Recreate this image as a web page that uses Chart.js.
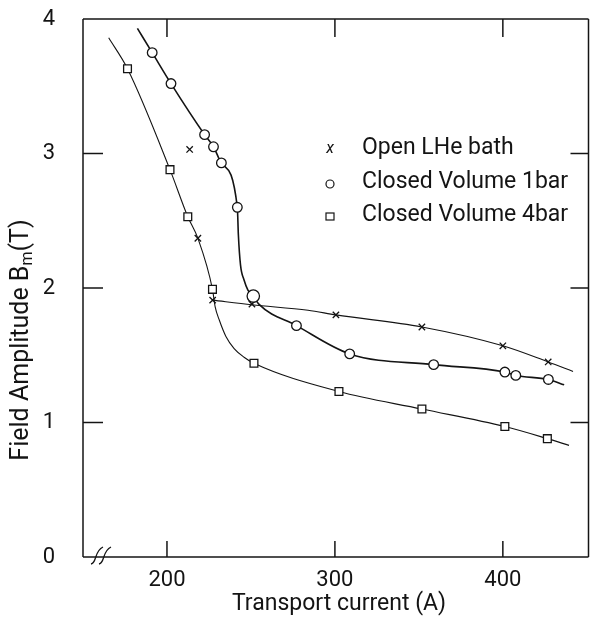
<!DOCTYPE html>
<html><head><meta charset="utf-8">
<script src="https://cdn.jsdelivr.net/npm/chart.js@4"></script>
<style>html,body{margin:0;padding:0;background:#fff}canvas{display:block}</style>
</head><body>
<canvas id="c" width="596" height="619"></canvas>
<script>
// ---- data ----
const xTickValues = [200, 300, 400];
const yTickValues = [0, 1, 2, 3, 4];
const seriesNames = ['Open LHe bath', 'Closed Volume 1bar', 'Closed Volume 4bar'];
const xTitle = 'Transport current (A)';

// Open LHe bath (x markers)
const openX = [213.5, 218.4, 227.2, 250.6, 300.6, 351.8, 400.0, 427.0];
const openY = [3.03, 2.37, 1.91, 1.88, 1.80, 1.71, 1.57, 1.45];
const openCurveX = [227.2, 250.6, 284.0, 300.6, 351.8, 400.0, 427.0, 441.8];
const openCurveY = [1.91, 1.875, 1.835, 1.80, 1.71, 1.57, 1.45, 1.38];

// Closed Volume 1bar (circles)
const circX = [191.2, 202.4, 222.4, 227.7, 232.4, 241.9, 251.4, 277.1, 308.8, 358.8, 401.2, 407.7, 427.1];
const circY = [3.75, 3.52, 3.14, 3.05, 2.93, 2.60, 1.94, 1.72, 1.51, 1.43, 1.375, 1.35, 1.32];
const circCurveX = [182.4, 191.2, 202.4, 222.4, 227.7, 232.4, 241.9, 242.5, 243.8, 245.9, 248.2, 251.4, 254.7, 277.1, 308.8, 358.8, 401.2, 407.7, 427.1, 436.5];
const circCurveY = [3.93, 3.75, 3.52, 3.14, 3.05, 2.93, 2.60, 2.40, 2.17, 2.06, 1.985, 1.94, 1.88, 1.72, 1.51, 1.43, 1.375, 1.35, 1.32, 1.28];

// Closed Volume 4bar (squares)
const sqX = [176.5, 201.8, 212.4, 227.1, 251.8, 302.4, 351.8, 401.2, 426.5];
const sqY = [3.63, 2.88, 2.53, 1.99, 1.44, 1.23, 1.10, 0.97, 0.88];
const sqCurveX = [165.3, 176.5, 201.8, 212.4, 218.4, 227.1, 228.7, 231.2, 235.1, 240.0, 245.9, 251.8, 302.4, 351.8, 401.2, 426.5, 439.4];
const sqCurveY = [3.86, 3.63, 2.88, 2.53, 2.37, 1.99, 1.86, 1.76, 1.64, 1.55, 1.485, 1.44, 1.23, 1.10, 0.97, 0.88, 0.83];

const zip = (xs, ys) => xs.map((v, i) => ({x: v, y: ys[i]}));
const INK = '#141414';
const FONT = 'Roboto, "DejaVu Sans", sans-serif';

const curve = (data, w) => ({
  data, showLine: true, pointRadius: 0, borderColor: INK, borderWidth: w,
  cubicInterpolationMode: 'monotone', fill: false, order: 2
});
const marks = (data, style, r) => ({
  data, showLine: false, pointStyle: style, pointRadius: r, pointBorderColor: INK,
  pointBackgroundColor: '#fff', pointBorderWidth: 1.3, order: 1
});

const decor = {
  id: 'decor',
  afterDraw(chart) {
    const {ctx, chartArea: a, scales: {x, y}} = chart;
    ctx.save();
    ctx.strokeStyle = INK; ctx.fillStyle = INK; ctx.lineWidth = 1.5;
    const ln = (x1, y1, x2, y2) => { ctx.beginPath(); ctx.moveTo(x1, y1); ctx.lineTo(x2, y2); ctx.stroke(); };
    // frame
    ln(a.left, a.top, a.right, a.top);
    ln(a.left, a.top, a.left, a.bottom);
    ln(a.right, a.top, a.right, a.bottom);
    ln(a.left, a.bottom, a.right, a.bottom);
    // inward ticks
    xTickValues.forEach(v => {
      const px = x.getPixelForValue(v);
      ln(px, a.bottom, px, a.bottom - 16);
      ln(px, a.top, px, a.top + 18);
    });
    yTickValues.slice(1, -1).forEach(v => {
      const py = y.getPixelForValue(v);
      ln(a.left, py, a.left + 20, py);
      ln(a.right, py, a.right - 18, py);
    });
    // axis break
    ctx.lineWidth = 1.3;
    [0, 8].forEach(dx => {
      const bx = a.left + 8 + dx, by = a.bottom;
      ctx.beginPath();
      ctx.moveTo(bx, by + 7);
      ctx.bezierCurveTo(bx + 6, by + 6, bx + 3, by - 6, bx + 12, by - 10);
      ctx.stroke();
    });
    // x title
    ctx.font = '23px ' + FONT;
    ctx.textAlign = 'center'; ctx.textBaseline = 'middle';
    ctx.fillText(xTitle, 339, 604);
    // y title with subscript
    ctx.save();
    ctx.translate(19, 340);
    ctx.rotate(-Math.PI / 2);
    const p1 = 'Field Amplitude B', p2 = 'm', p3 = '(T)';
    ctx.font = '25px ' + FONT; const w1 = ctx.measureText(p1).width, w3 = ctx.measureText(p3).width;
    ctx.font = '16px ' + FONT; const w2 = ctx.measureText(p2).width;
    let sx = -(w1 + w2 + w3) / 2;
    ctx.textAlign = 'left'; ctx.textBaseline = 'alphabetic';
    ctx.font = '25px ' + FONT; ctx.fillText(p1, sx, 9); sx += w1;
    ctx.font = '16px ' + FONT; ctx.fillText(p2, sx, 13); sx += w2;
    ctx.font = '25px ' + FONT; ctx.fillText(p3, sx, 9);
    ctx.restore();
    // legend
    const rows = [148, 182, 215];
    ctx.textAlign = 'left'; ctx.textBaseline = 'middle';
    ctx.font = '23px ' + FONT;
    seriesNames.forEach((n, i) => ctx.fillText(n, 362, rows[i]));
    ctx.lineWidth = 1.2;
    ctx.font = 'italic 16px ' + FONT; ctx.textAlign = 'center';
    ctx.fillText('x', 330, rows[0] + 1);
    ctx.beginPath(); ctx.arc(330, rows[1] + 2, 4, 0, Math.PI * 2); ctx.stroke();
    ctx.strokeRect(326, rows[2] - 2, 8, 7);
    ctx.restore();
  }
};

new Chart(document.getElementById('c'), {
  type: 'scatter',
  data: {
    datasets: [
      curve(zip(sqCurveX, sqCurveY), 1.1),
      curve(zip(circCurveX, circCurveY), 1.6),
      curve(zip(openCurveX, openCurveY), 1.1),
      marks(zip(sqX, sqY), 'rect', 5.5),
      Object.assign(marks(zip(circX, circY), 'circle', 4.8), {pointRadius: c => c.dataIndex === 6 ? 6.2 : 4.8}),
      marks(zip(openX, openY), 'crossRot', 4.5)
    ]
  },
  options: {
    responsive: false, animation: false, events: [],
    layout: {padding: {top: 19, right: 1, left: 0, bottom: 0}},
    plugins: {legend: {display: false}, tooltip: {enabled: false}},
    scales: {
      x: {
        type: 'linear', min: 150, max: 451,
        grid: {display: false, drawTicks: false}, border: {display: false},
        afterBuildTicks: s => { s.ticks = xTickValues.map(v => ({value: v})); },
        afterFit: s => { s.height = 62; s.paddingLeft = 0; s.paddingRight = 0; },
        ticks: {padding: 10, color: INK, maxRotation: 0, font: {family: FONT, size: 22}}
      },
      y: {
        type: 'linear', min: 0, max: 4,
        grid: {display: false, drawTicks: false}, border: {display: false},
        afterBuildTicks: s => { s.ticks = yTickValues.map(v => ({value: v})); },
        afterFit: s => { s.width = 83; s.paddingTop = 0; s.paddingBottom = 0; },
        ticks: {padding: 28, color: INK, font: {family: FONT, size: 22}}
      }
    }
  },
  plugins: [decor]
});
</script>
</body></html>
